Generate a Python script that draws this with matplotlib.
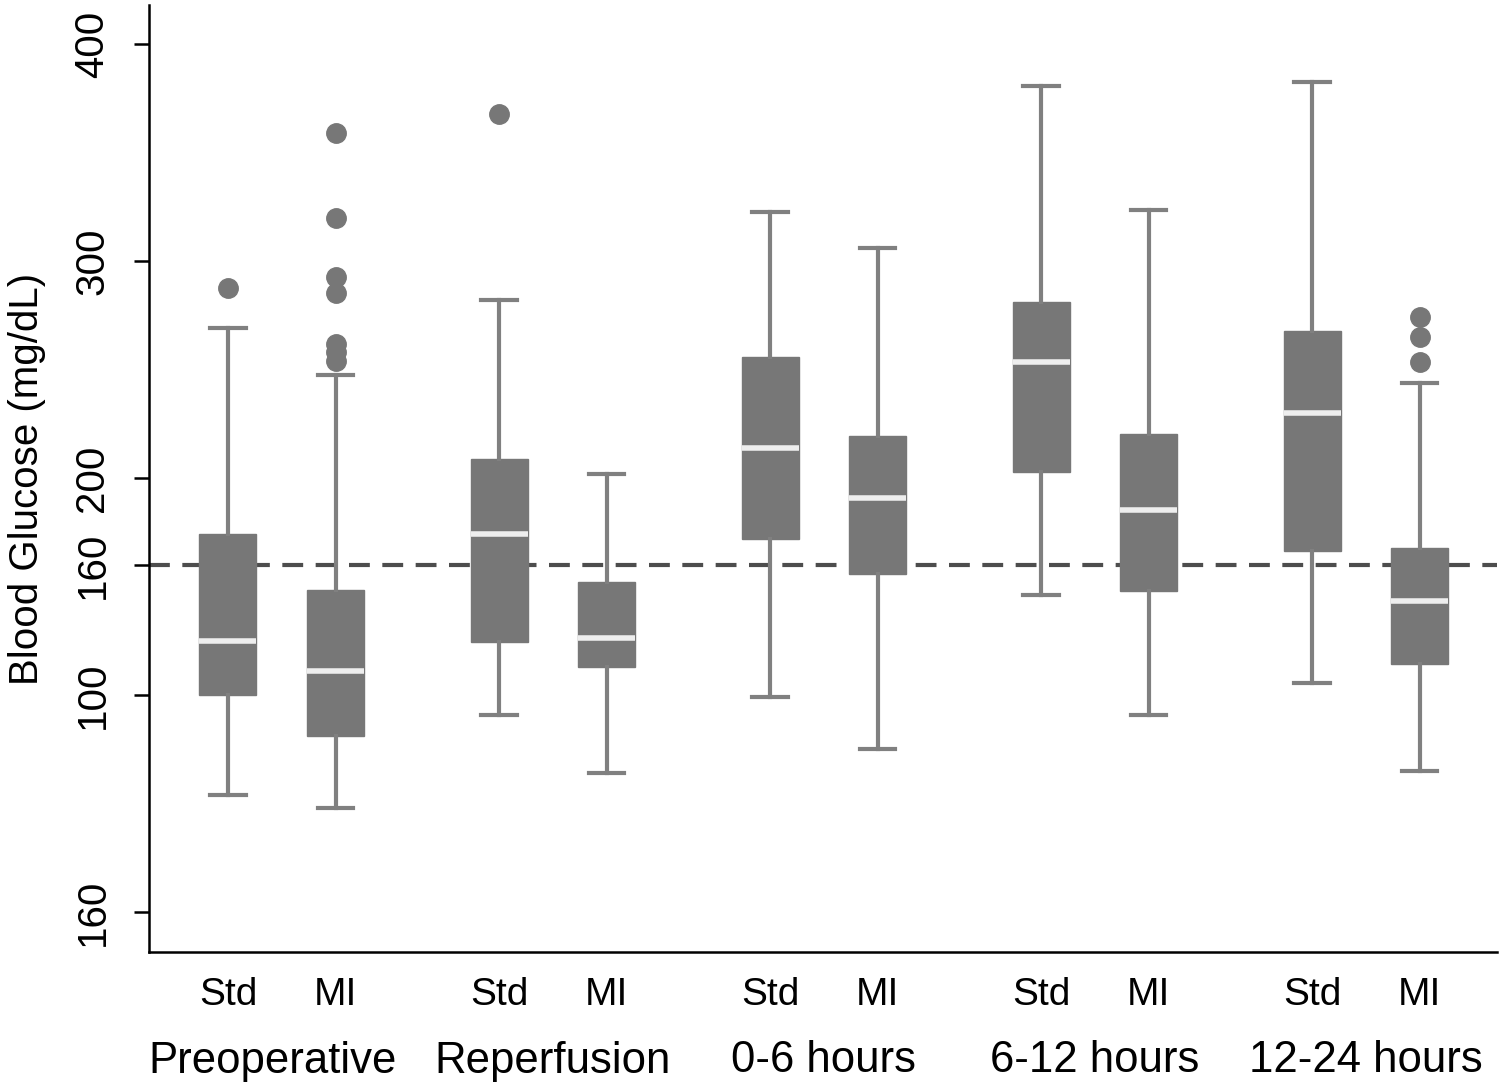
import matplotlib
matplotlib.use('Agg')
import matplotlib.pyplot as plt
import matplotlib.transforms as mtransforms

plt.rcParams['font.family'] = ['Liberation Sans', 'DejaVu Sans']

# Data (mg/dL)
groups = ['Preoperative', 'Reperfusion', '0-6 hours', '6-12 hours', '12-24 hours']
arms = ['Std', 'MI']

# per box: whislo, q1, med, q3, whishi (order: Std, MI for each group)
whislo = [54, 48, 91, 64, 99, 75, 146, 91, 105.5, 65]
q1 = [100, 81, 124.5, 113, 172, 156, 203, 148, 166.5, 114.5]
med = [125, 111, 174, 126.5, 214, 191, 253.5, 185.5, 230, 143.5]
q3 = [174, 148.5, 209, 152, 256, 219.5, 281, 220.5, 268, 168]
whishi = [269, 247.5, 282, 202, 322.5, 306, 380.5, 323.5, 382.5, 244]
fliers = [
    [287.5],
    [359, 320, 292.5, 285.5, 262, 258, 254],
    [368],
    [],
    [],
    [],
    [],
    [],
    [],
    [274, 265, 253.5],
]

ytick_vals = [0, 100, 160, 200, 300, 400]
ytick_labels = ['160', '100', '160', '200', '300', '400']
threshold = 160

# ---- build boxplot stats ----
stats = []
for i in range(len(med)):
    stats.append(dict(whislo=whislo[i], q1=q1[i], med=med[i], q3=q3[i],
                      whishi=whishi[i], fliers=fliers[i]))

group_gap = 2.52
positions = []
for g in range(len(groups)):
    positions += [g * group_gap, g * group_gap + 1]

fig = plt.figure(figsize=(15, 10.9), dpi=100)
ax = fig.add_axes([0.0993, 0.1266, 0.8987, 0.8688])

grey = '#777777'
line_grey = '#808080'
ax.axhline(threshold, color='#4d4d4d', lw=3, linestyle=(0, (5, 3)), zorder=1)

ax.bxp(stats, positions=positions, widths=0.53, patch_artist=True,
       showfliers=True, manage_ticks=False,
       boxprops=dict(facecolor=grey, edgecolor=grey, linewidth=1),
       whiskerprops=dict(color=line_grey, linewidth=3),
       capprops=dict(color=line_grey, linewidth=3),
       capwidths=0.33,
       medianprops=dict(color='#eeeeee', linewidth=4),
       flierprops=dict(marker='o', markerfacecolor=grey, markeredgecolor=grey,
                       markersize=14),
       zorder=2)

ax.set_xlim(-0.735, 11.8)
ax.set_ylim(-18.4, 418)

ax.set_yticks(ytick_vals)
ax.set_yticklabels(ytick_labels, rotation=90, va='center', fontsize=29)
ax.tick_params(axis='y', length=11, width=1.8, pad=16)

ax.set_xticks(positions)
ax.set_xticklabels(arms * len(groups), fontsize=28)
ax.tick_params(axis='x', length=0, pad=18)

ax.set_ylabel('Blood Glucose (mg/dL)', fontsize=29, labelpad=20)

for s in ['top', 'right']:
    ax.spines[s].set_visible(False)
for s in ['left', 'bottom']:
    ax.spines[s].set_linewidth(1.8)

# group labels under the Std/MI labels (first one sits a bit left, as in the original)
label_shift = [-0.09, 0, 0, 0, 0]
trans = mtransforms.blended_transform_factory(ax.transData, fig.transFigure)
for g, name in enumerate(groups):
    ax.text(g * group_gap + 0.5 + label_shift[g], 1 - 1061 / 1090, name,
            transform=trans, ha='center', va='center', fontsize=31.5)

fig.savefig('out.png', dpi=100)
